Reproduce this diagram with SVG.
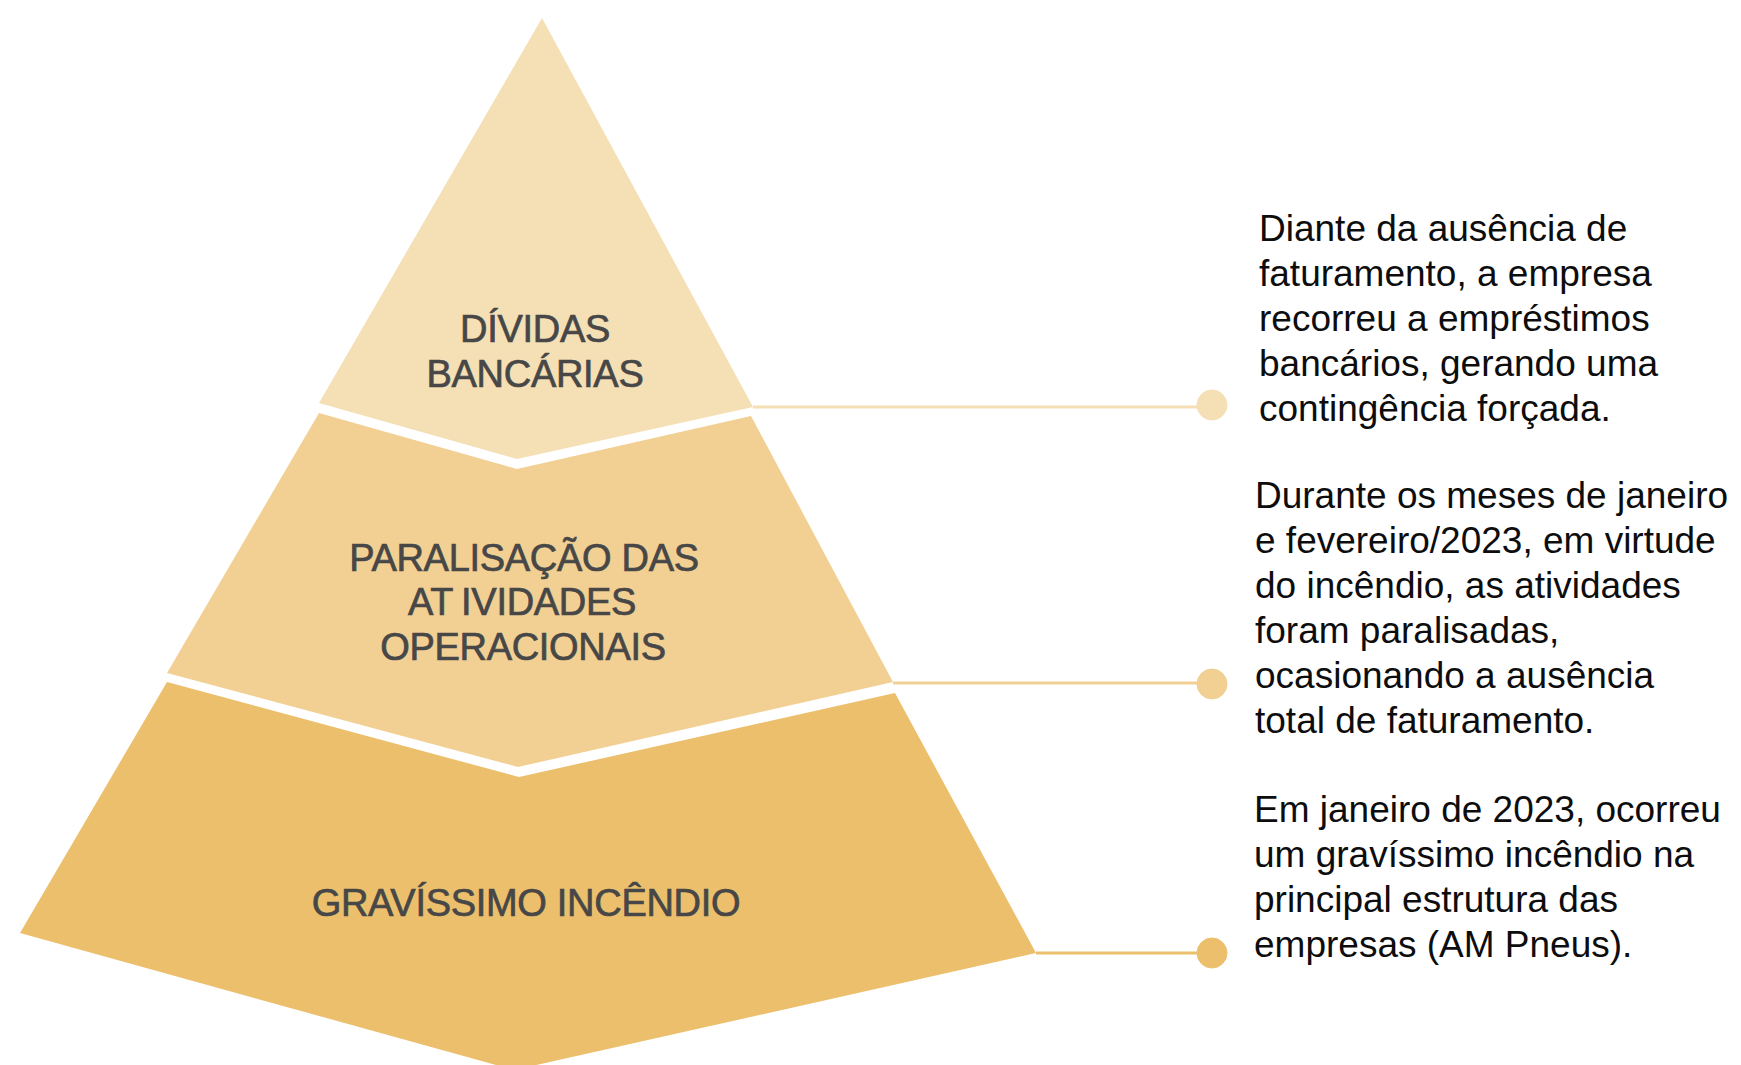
<svg xmlns="http://www.w3.org/2000/svg" width="1741" height="1065" viewBox="0 0 1741 1065">
<style>
.lbl{font-family:"Liberation Sans",Arial,sans-serif;font-size:38px;fill:#474747;stroke:#474747;stroke-width:0.7px;text-anchor:middle;letter-spacing:-0.3px}
.desc{font-family:"Liberation Sans",Arial,sans-serif;font-size:37px;fill:#0D0D0D}
.c1{stroke:#F5DFB5;fill:#F5DFB5}
.c2{stroke:#F2CF92;fill:#F2CF92}
.c3{stroke:#ECBF6C;fill:#ECBF6C}
.ln{stroke-width:3;fill:none}
</style>
<rect width="1741" height="1065" fill="#FFFFFF"/>
<g id="connectors">
<line class="c1 ln" x1="753" y1="407" x2="1212" y2="407"/>
<circle class="c1" cx="1212" cy="405" r="15" stroke="none"/>
<line class="c2 ln" x1="893" y1="683" x2="1212" y2="683"/>
<circle class="c2" cx="1212" cy="684" r="15" stroke="none"/>
<line class="c3 ln" x1="1036" y1="953" x2="1212" y2="953"/>
<circle class="c3" cx="1212" cy="953" r="15" stroke="none"/>
</g>
<g id="level-top">
<polygon fill="#F5DFB5" points="542,18 753,407 517,459 319,403"/>
<text class="lbl" x="535" y="342">DÍVIDAS</text>
<text class="lbl" x="535" y="387">BANCÁRIAS</text>
</g>
<g id="level-middle">
<polygon fill="#F2CF92" points="319,413 517,469 751,416 893,682 518,767 167,673"/>
<text class="lbl" x="524" y="571">PARALISAÇÃO DAS</text>
<text class="lbl" x="522" y="615">AT<tspan dx="8">IVIDADES</tspan></text>
<text class="lbl" x="523" y="660">OPERACIONAIS</text>
</g>
<g id="level-bottom">
<polygon fill="#ECBF6C" points="167,682 519,777 895,693 1036,953 514,1070 20,933"/>
<text class="lbl" x="526" y="916">GRAVÍSSIMO INCÊNDIO</text>
</g>
<g id="desc-top">
<text class="desc" x="1259" y="241">Diante da ausência de</text>
<text class="desc" x="1259" y="286">faturamento, a empresa</text>
<text class="desc" x="1259" y="331">recorreu a empréstimos</text>
<text class="desc" x="1259" y="376">bancários, gerando uma</text>
<text class="desc" x="1259" y="421">contingência forçada.</text>
</g>
<g id="desc-middle">
<text class="desc" x="1255" y="508">Durante os meses de janeiro</text>
<text class="desc" x="1255" y="553">e fevereiro/2023, em virtude</text>
<text class="desc" x="1255" y="598">do incêndio, as atividades</text>
<text class="desc" x="1255" y="643">foram paralisadas,</text>
<text class="desc" x="1255" y="688">ocasionando a ausência</text>
<text class="desc" x="1255" y="733">total de faturamento.</text>
</g>
<g id="desc-bottom">
<text class="desc" x="1254" y="822">Em janeiro de 2023, ocorreu</text>
<text class="desc" x="1254" y="867">um gravíssimo incêndio na</text>
<text class="desc" x="1254" y="912">principal estrutura das</text>
<text class="desc" x="1254" y="957">empresas (AM Pneus).</text>
</g>
</svg>
